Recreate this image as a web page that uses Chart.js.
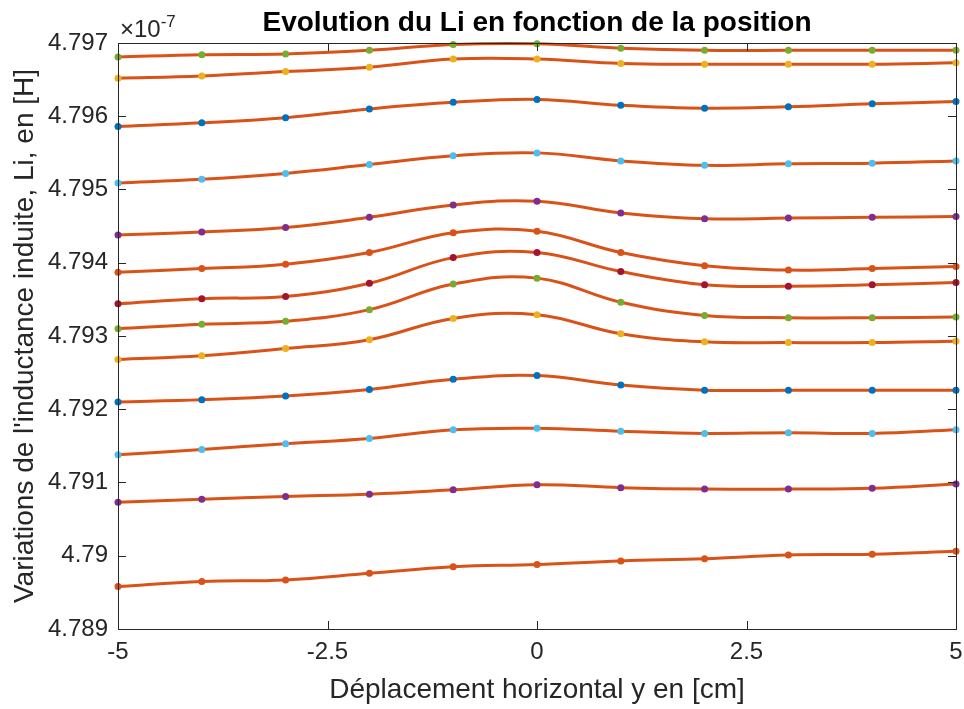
<!DOCTYPE html>
<html>
<head>
<meta charset="utf-8">
<script src="https://cdn.jsdelivr.net/npm/chart.js@4/dist/chart.umd.min.js"></script>
<style>
  html, body { margin: 0; padding: 0; background: #ffffff; }
  #wrap { width: 964px; height: 709px; }
</style>
</head>
<body>
<div id="wrap"><canvas id="graph" width="964" height="709"></canvas></div>
<script>
/*-------------------------------------------------------------------------*/
// Donnees (valeurs en x 1e-7 H)
/*-------------------------------------------------------------------------*/
var positions = [-5, -4, -3, -2, -1, 0, 1, 2, 3, 4, 5];
var xTicks = [-5, -2.5, 0, 2.5, 5];
var yTicks = [4.789, 4.790, 4.791, 4.792, 4.793, 4.794, 4.795, 4.796, 4.797];

var courbe1  = [4.79681, 4.79684, 4.79685, 4.79690, 4.79698, 4.79699, 4.79693, 4.79690, 4.79690, 4.79690, 4.79690];
var courbe2  = [4.79652, 4.79655, 4.79661, 4.79667, 4.79678, 4.79678, 4.79672, 4.79671, 4.79671, 4.79671, 4.79673];
var courbe3  = [4.79586, 4.79591, 4.79598, 4.79610, 4.79619, 4.79623, 4.79615, 4.79611, 4.79613, 4.79617, 4.79620];
var courbe4  = [4.79509, 4.79514, 4.79522, 4.79534, 4.79546, 4.79550, 4.79539, 4.79533, 4.79535, 4.79536, 4.79539];
var courbe5  = [4.79438, 4.79442, 4.79448, 4.79462, 4.79479, 4.79484, 4.79468, 4.79460, 4.79461, 4.79462, 4.79463];
var courbe6  = [4.79387, 4.79392, 4.79398, 4.79414, 4.79441, 4.79443, 4.79414, 4.79396, 4.79390, 4.79392, 4.79395];
var courbe7  = [4.79344, 4.79351, 4.79354, 4.79372, 4.79407, 4.79414, 4.79388, 4.79370, 4.79368, 4.79370, 4.79373];
var courbe8  = [4.79310, 4.79316, 4.79320, 4.79336, 4.79371, 4.79379, 4.79346, 4.79328, 4.79325, 4.79325, 4.79326];
var courbe9  = [4.79268, 4.79273, 4.79283, 4.79295, 4.79324, 4.79329, 4.79303, 4.79292, 4.79291, 4.79291, 4.79293];
var courbe10 = [4.79210, 4.79213, 4.79218, 4.79227, 4.79241, 4.79246, 4.79233, 4.79226, 4.79226, 4.79226, 4.79226];
var courbe11 = [4.79138, 4.79145, 4.79153, 4.79160, 4.79172, 4.79174, 4.79170, 4.79167, 4.79168, 4.79167, 4.79172];
var courbe12 = [4.79073, 4.79077, 4.79081, 4.79084, 4.79090, 4.79097, 4.79093, 4.79091, 4.79091, 4.79092, 4.79098];
var courbe13 = [4.78958, 4.78965, 4.78967, 4.78976, 4.78985, 4.78988, 4.78993, 4.78996, 4.79001, 4.79002, 4.79006];

var courbes = [courbe1, courbe2, courbe3, courbe4, courbe5, courbe6, courbe7,
               courbe8, courbe9, courbe10, courbe11, courbe12, courbe13];
var markerColors = ['#77AC30', '#EDB120', '#0072BD', '#4DBEEE', '#7E2F8E', '#D95319', '#A2142F',
                    '#77AC30', '#EDB120', '#0072BD', '#4DBEEE', '#7E2F8E', '#D95319'];
var lineColor = '#D95319';
var axisColor = '#262626';
var fontName = '"Liberation Sans", Arial, Helvetica, sans-serif';

/*-------------------------------------------------------------------------*/
// Datasets
/*-------------------------------------------------------------------------*/
var datasets = [];
for (var i = 0; i < courbes.length; i++) {
	var pts = [];
	for (var j = 0; j < positions.length; j++) {
		pts.push({ x: positions[j], y: courbes[i][j] });
	}
	datasets.push({
		data: pts,
		borderColor: lineColor,
		borderWidth: 3,
		backgroundColor: markerColors[i],
		pointBackgroundColor: markerColors[i],
		pointBorderWidth: 0,
		pointRadius: 3.5,
		tension: 0.4,
		clip: false
	});
}

// MATLAB style box with inward ticks, title and exponent
var matlabBox = {
	id: 'matlabBox',
	afterDraw: function(chart) {
		var ctx = chart.ctx;
		var a = chart.chartArea;
		var xs = chart.scales.x, ys = chart.scales.y;
		var len = 8;
		ctx.save();
		ctx.strokeStyle = axisColor;
		ctx.lineWidth = 1;
		ctx.strokeRect(Math.round(a.left) + 0.5, Math.round(a.top) + 0.5,
			Math.round(a.right - a.left), Math.round(a.bottom - a.top));
		ctx.beginPath();
		xTicks.forEach(function(v) {
			var px = Math.round(xs.getPixelForValue(v)) + 0.5;
			ctx.moveTo(px, a.bottom); ctx.lineTo(px, a.bottom - len);
			ctx.moveTo(px, a.top); ctx.lineTo(px, a.top + len);
		});
		yTicks.forEach(function(v) {
			var py = Math.round(ys.getPixelForValue(v)) + 0.5;
			ctx.moveTo(a.left, py); ctx.lineTo(a.left + len, py);
			ctx.moveTo(a.right, py); ctx.lineTo(a.right - len, py);
		});
		ctx.stroke();

		// title
		ctx.fillStyle = '#000000';
		ctx.font = 'bold 28px ' + fontName;
		ctx.textAlign = 'center';
		ctx.textBaseline = 'alphabetic';
		ctx.fillText('Evolution du Li en fonction de la position', (a.left + a.right) / 2, 31);

		// exponent
		ctx.fillStyle = axisColor;
		ctx.textAlign = 'left';
		ctx.font = '24px ' + fontName;
		ctx.fillText('\u00d710', a.left + 2, 37);
		var w = ctx.measureText('\u00d710').width;
		ctx.font = '17px ' + fontName;
		ctx.fillText('-7', a.left + 2 + w, 27);
		ctx.restore();
	}
};

var graphCTX = document.getElementById('graph').getContext('2d');
new Chart(graphCTX, {
	type: 'line',
	data: { datasets: datasets },
	options: {
		responsive: false,
		animation: false,
		layout: { padding: { left: 0, right: 8, top: 43, bottom: 0 } },
		plugins: { legend: { display: false }, tooltip: { enabled: false }, title: { display: false } },
		scales: {
			x: {
				type: 'linear',
				min: -5,
				max: 5,
				afterBuildTicks: function(scale) {
					scale.ticks = xTicks.map(function(v) { return { value: v }; });
				},
				afterFit: function(scale) {
					scale.height = 80;
					scale.paddingLeft = 0;
					scale.paddingRight = 0;
				},
				grid: { display: false, drawTicks: false },
				border: { display: false },
				ticks: {
					padding: 9,
					color: axisColor,
					font: { family: fontName, size: 24 },
					maxRotation: 0,
					callback: function(v) { return String(v); }
				},
				title: {
					display: true,
					text: 'D\u00e9placement horizontal y en [cm]',
					color: axisColor,
					font: { family: fontName, size: 28 },
					padding: { top: 0, bottom: 2 }
				}
			},
			y: {
				type: 'linear',
				min: 4.789,
				max: 4.797,
				afterBuildTicks: function(scale) {
					scale.ticks = yTicks.map(function(v) { return { value: v }; });
				},
				afterFit: function(scale) {
					scale.width = 118;
					scale.paddingTop = 0;
					scale.paddingBottom = 0;
				},
				grid: { display: false, drawTicks: false },
				border: { display: false },
				ticks: {
					padding: 10,
					color: axisColor,
					font: { family: fontName, size: 24 },
					callback: function(v) { return String(parseFloat(v.toFixed(3))); }
				},
				title: {
					display: true,
					text: "Variations de l'inductance induite, Li, en [H]",
					color: axisColor,
					font: { family: fontName, size: 28 },
					padding: { top: 8, bottom: 0 }
				}
			}
		}
	},
	plugins: [matlabBox]
});
</script>
</body>
</html>
